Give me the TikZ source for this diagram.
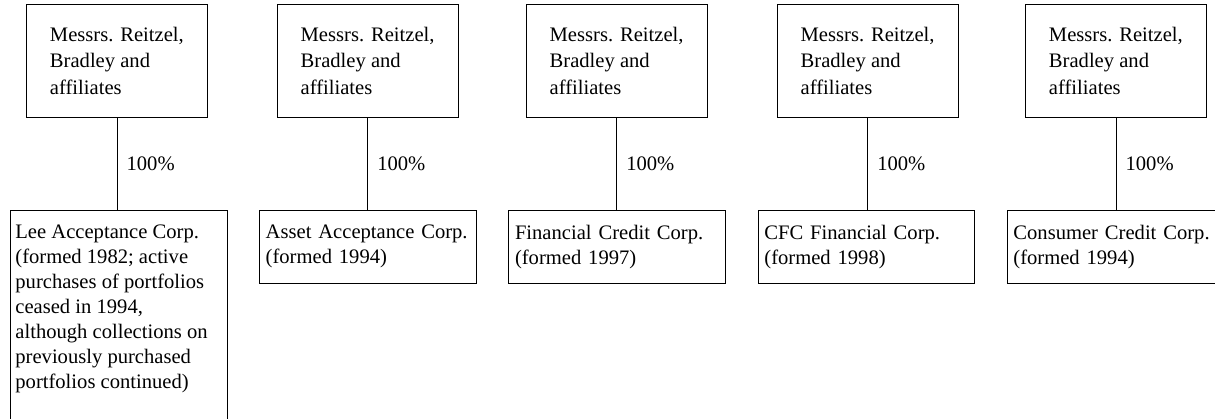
\documentclass[tikz,border=0pt]{standalone}
\usepackage{fontspec}
\setmainfont{Liberation Serif}
\begin{document}
\begin{tikzpicture}[x=1pt,y=-1pt,
  owner/.style={draw, line width=0.8pt, anchor=north west, minimum width=181pt, minimum height=113pt, align=left, inner sep=0pt, font=\fontsize{20.6}{26.7}\selectfont},
  sub/.style={draw, line width=0.8pt, anchor=north west, minimum height=72.7pt, text width=204pt, inner xsep=6.3pt, inner ysep=0pt, align=left, font=\fontsize{20.6}{25}\selectfont},
  longsub/.style={draw, line width=0.8pt, anchor=north west, inner xsep=5pt, inner ysep=14pt, font=\fontsize{20.6}{25}\selectfont},
  link/.style={line width=0.8pt},
  pct/.style={font=\fontsize{20.6}{24}\selectfont, right, xshift=6pt}]
\useasboundingbox (0,0) rectangle (1215,419);

\node[owner] (t1) at (26,4) {Messrs. Reitzel,\\Bradley and\\affiliates};
\node[owner] (t2) at (276.7,4) {Messrs. Reitzel,\\Bradley and\\affiliates};
\node[owner] (t3) at (525.7,4) {Messrs. Reitzel,\\Bradley and\\affiliates};
\node[owner] (t4) at (776.7,4) {Messrs. Reitzel,\\Bradley and\\affiliates};
\node[owner] (t5) at (1025,4) {Messrs. Reitzel,\\Bradley and\\affiliates};

\node[longsub] (b1) at (10,210) {\parbox[t][230pt][t]{206.7pt}{\raggedright Lee Acceptance Corp.\\(formed 1982; active\\purchases of portfolios\\ceased in 1994,\\although collections on\\previously purchased\\portfolios continued)}};
\node[sub] (b2) at (259,210) {Asset Acceptance Corp.\\(formed 1994)};
\node[sub] (b3) at (508.3,210) {Financial Credit Corp.\\(formed 1997)};
\node[sub] (b4) at (757.7,210) {CFC Financial Corp.\\(formed 1998)};
\node[sub] (b5) at (1006.7,210) {Consumer Credit Corp.\\(formed 1994)};

\foreach \i in {1,...,5}{
  \draw[link] (t\i.south) -- (t\i.south |- b\i.north) node[pct, midway] {100\%};
}
\end{tikzpicture}
\end{document}
